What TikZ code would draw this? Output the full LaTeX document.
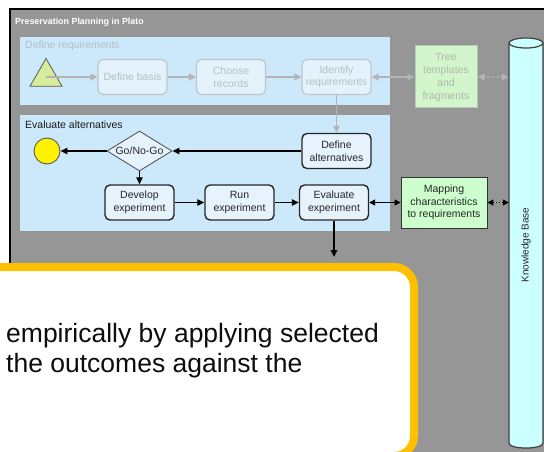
\documentclass[tikz,border=0pt]{standalone}
\usepackage{fontspec}
\setmainfont{Liberation Sans}
\usetikzlibrary{arrows.meta,shapes.geometric}
\definecolor{panelgray}{HTML}{969696}
\definecolor{laneblue}{HTML}{CCE8FB}
\definecolor{taskfill}{HTML}{E6F3FD}
\definecolor{taskline}{HTML}{262626}
\definecolor{fadefill}{HTML}{E4F2FC}
\definecolor{fadeline}{HTML}{BEC6CC}
\definecolor{fadetext}{HTML}{B4BEC6}
\definecolor{fadearrow}{HTML}{B4B4B4}
\definecolor{treefill}{HTML}{D2F5CB}
\definecolor{treeline}{HTML}{B8CAB8}
\definecolor{treetext}{HTML}{AABAAA}
\definecolor{mapfill}{HTML}{CCFFCC}
\definecolor{kbfill}{HTML}{CCFFFF}
\definecolor{trifill}{HTML}{D6EC9A}
\definecolor{calloutorange}{HTML}{FFC000}
\begin{document}
\begin{tikzpicture}[x=1pt,y=-1pt,
  boxfont/.style={font=\fontsize{10.5}{12.5}\selectfont},
  task/.style={boxfont,draw=taskline,fill=taskfill,line width=1.4pt,
    rounded corners=5pt,minimum width=69pt,minimum height=35pt,
    align=center,inner sep=1pt,text=black!85},
  fadetask/.style={task,draw=fadeline,fill=fadefill,line width=1.2pt,text=fadetext},
  flow/.style={line width=1.3pt,draw=black,-{Triangle[length=7pt,width=6.5pt]}},
  dflow/.style={line width=1.1pt,draw=black,
    {Triangle[length=6pt,width=6pt]}-{Triangle[length=6pt,width=6pt]}},
  fadeflow/.style={line width=1.3pt,draw=fadearrow,
    -{Triangle[length=7pt,width=6.5pt,fill=fadearrow]}},
  fadedflow/.style={line width=1.3pt,draw=fadearrow,
    {Triangle[length=7pt,width=6.5pt,fill=fadearrow]}-{Triangle[length=7pt,width=6.5pt,fill=fadearrow]}},
  lanelabel/.style={anchor=base west,inner sep=0pt,font=\fontsize{10.5}{12}\selectfont}
]
\useasboundingbox (0,0) rectangle (544,452);

% outer panel
\draw[fill=panelgray,draw=black,line width=2pt] (9.5,9.5) rectangle (580,480);
\node[anchor=base west,inner sep=0pt,text=white,font=\bfseries\fontsize{8.9}{10}\selectfont]
  (title) at (15,25) {Preservation Planning in Plato};

% lanes
\fill[laneblue] (20,37) rectangle (390,105);
\fill[laneblue] (20,115) rectangle (390,231);
\node[lanelabel,text=fadetext] (lanedef) at (25,49) {Define requirements};
\node[lanelabel,text=black!90] (laneeval) at (25,128.5) {Evaluate alternatives};

% knowledge base cylinder
\fill[kbfill] (509,43) -- (509,443) .. controls (509,449.7) and (543,449.7) .. (543,443) -- (543,43) -- cycle;
\draw[draw=black!75,line width=1.2pt] (509,43) -- (509,443) .. controls (509,449.7) and (543,449.7) .. (543,443) -- (543,43);
\draw[draw=black!75,line width=1.2pt,fill=kbfill] (526,43) ellipse [x radius=17, y radius=5];
\node[minimum width=34pt,minimum height=410pt,inner sep=0pt] (kb) at (526,243) {};
\node[rotate=90,font=\fontsize{10}{12}\selectfont,text=black!85] (kblabel) at (526,245) {Knowledge Base};

% define requirements (faded)
\node[regular polygon,regular polygon sides=3,minimum size=37pt,inner sep=0pt,
  draw=black!65,fill=trifill,line width=0.8pt] (tri) at (46,77) {};
\node[fadetask] (basis) at (132.5,77) {Define basis};
\node[fadetask] (records) at (231,77) {Choose\\records};
\node[fadetask] (identify) at (336.5,77) {Identify\\requirements};
\node[boxfont,draw=treeline,fill=treefill,line width=1pt,text=treetext,
  minimum width=62pt,minimum height=62pt,align=center,inner sep=1pt,
  font=\fontsize{10.5}{13}\selectfont] (tree) at (446,77) {Tree\\templates\\and\\fragments};

% evaluate alternatives
\node[task] (defalt) at (336.5,151) {Define\\alternatives};
\node[diamond,shape aspect=1.625,minimum width=65pt,minimum height=40pt,inner sep=0pt,
  draw=black!65,fill=taskfill,line width=0.9pt,boxfont,text=black!85] (gonogo) at (139.5,151) {Go/No-Go};
\node[circle,minimum size=26pt,inner sep=0pt,fill=yellow,draw=black!65,line width=0.9pt] (endev) at (47,151) {};
\node[task] (develop) at (139.5,202.5) {Develop\\experiment};
\node[task] (run) at (239.5,202.5) {Run\\experiment};
\node[task] (evaluate) at (334,202.5) {Evaluate\\experiment};
\node[boxfont,draw=black!80,fill=mapfill,line width=0.9pt,text=black!85,
  minimum width=86pt,minimum height=51pt,align=center,inner sep=1pt] (mapping) at (444,202.5)
  {Mapping\\characteristics\\to requirements};
\coordinate (outc) at (334,257);

% connectors
\draw[fadeflow] (tri.center) -- (basis);
\draw[fadeflow] (basis) -- (records);
\draw[fadeflow] (records) -- (identify);
\draw[fadedflow] (identify) -- (tree);
\draw[fadedflow,dotted] (tree) -- (tree -| kb.west);
\draw[fadeflow] (identify) -- (defalt);
\draw[flow] (defalt) -- (gonogo);
\draw[flow] (gonogo) -- (endev);
\draw[flow] (gonogo) -- (develop);
\draw[flow] (develop) -- (run);
\draw[flow] (run) -- (evaluate);
\draw[dflow] (evaluate) -- (mapping);
\draw[dflow,dotted] (mapping) -- (mapping -| kb.west);
\draw[flow] (evaluate) -- (outc);

% callout (base anchor of a two-line node sits on the second line)
\draw[draw=calloutorange,fill=white,line width=8pt,rounded corners=20pt] (-20,267) rectangle (414,456);
\node[anchor=base west,align=left,inner sep=0pt,font=\fontsize{26.5}{30}\selectfont,text=black!95]
  (callout) at (6,372) {empirically by applying selected\\the outcomes against the};
\end{tikzpicture}
\end{document}
